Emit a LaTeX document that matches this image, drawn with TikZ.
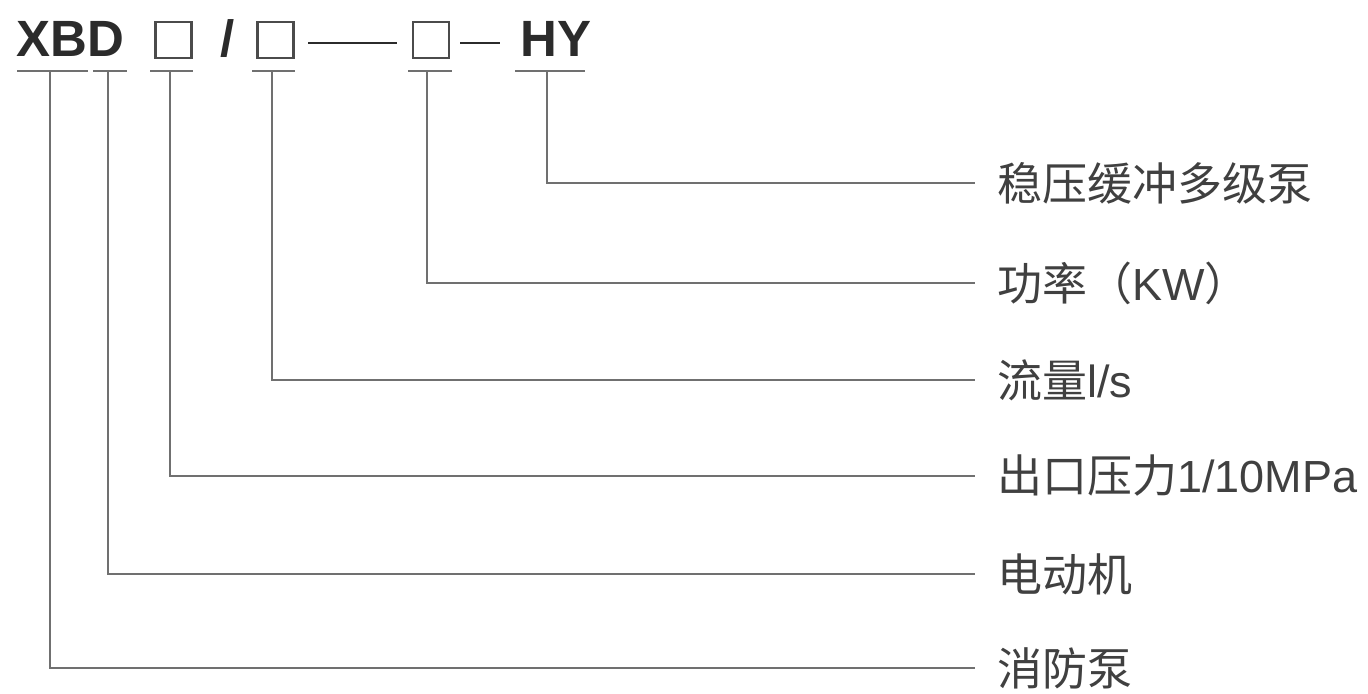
\documentclass[tikz,border=0pt]{standalone}
\usepackage{fontspec}
\setmainfont{Liberation Sans}
\newfontfamily\cjk{Noto Sans CJK SC}
\usetikzlibrary{positioning}
\definecolor{ink}{HTML}{2B2B2B}
\definecolor{wire}{HTML}{707070}

\begin{document}
\begin{tikzpicture}[x=0.5pt,y=-0.5pt]
	\tikzset{code/.style={font=\fontsize{25.5}{28}\selectfont\bfseries,text=ink,inner sep=0pt},
		slot/.style={draw=ink!85,line width=1.1pt,minimum size=18pt,inner sep=0pt},
		meaning/.style={font=\fontsize{22.5}{26}\selectfont,text=ink!90,inner sep=0pt,anchor=west},
		leg/.style={draw=wire,line width=0.9pt}}
	\useasboundingbox (0,0) rectangle (1368,694);

	% model code
	\node[code,anchor=base west] (xbd) at (16,57) {XBD};
	\node[slot] (pressure) at (173.5,40) {};
	\node[code,anchor=base] (slash) at (227.5,57) {/};
	\node[slot] (flow) at (275.5,40) {};
	\draw[ink,line width=1.4pt] (308,43) -- (397,43);
	\node[slot] (power) at (431,40) {};
	\draw[ink,line width=1.4pt] (460,43) -- (500,43);
	\node[code,anchor=base west] (hy) at (520,57) {HY};

	% underlines
	\draw[leg] (17,71) -- (88,71) (93,71) -- (127,71) (150,71) -- (193,71)
		(252,71) -- (295,71) (408,71) -- (452,71) (515,71) -- (585,71);
	\coordinate (xfoot) at (50,71);
	\coordinate (dfoot) at (108,71);
	\coordinate (pressurefoot) at (170,71);
	\coordinate (flowfoot) at (272,71);
	\coordinate (powerfoot) at (427,71);
	\coordinate (hyfoot) at (547,71);

	% meanings
	\node[meaning] (buffer) at (997,183) {\cjk 稳压缓冲多级泵};
	\node[meaning] (kw) at (997,283) {{\cjk 功率（}KW{\cjk ）}};
	\node[meaning] (ls) at (997,380) {{\cjk 流量}l/s};
	\node[meaning] (mpa) at (997,476) {{\cjk 出口压力}1/10MPa};
	\node[meaning] (motor) at (997,574) {\cjk 电动机};
	\node[meaning] (firepump) at (997,668) {\cjk 消防泵};

	\draw[leg,shorten >=11pt] (hyfoot) |- (buffer.west);
	\draw[leg,shorten >=11pt] (powerfoot) |- (kw.west);
	\draw[leg,shorten >=11pt] (flowfoot) |- (ls.west);
	\draw[leg,shorten >=11pt] (pressurefoot) |- (mpa.west);
	\draw[leg,shorten >=11pt] (dfoot) |- (motor.west);
	\draw[leg,shorten >=11pt] (xfoot) |- (firepump.west);
\end{tikzpicture}
\end{document}
